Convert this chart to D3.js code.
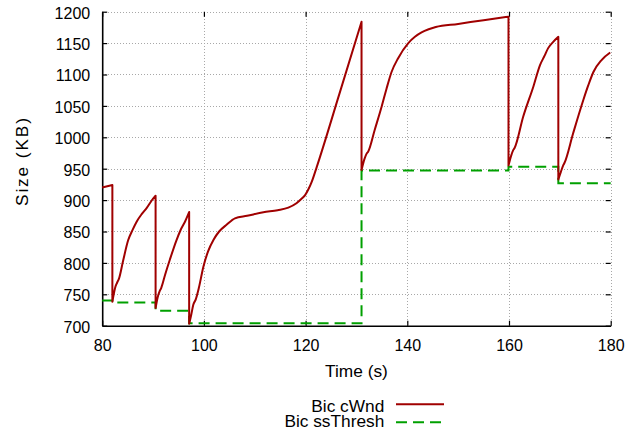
<!DOCTYPE html>
<html>
<head>
<meta charset="utf-8">
<script src="https://cdn.jsdelivr.net/npm/d3@7"></script>
<style>
  html, body { margin: 0; padding: 0; background: #fff; }
  svg { display: block; font-family: "Liberation Sans", Arial, Helvetica, sans-serif; }
</style>
</head>
<body>
<svg id="chart" width="639" height="432"></svg>
<script>
// Congestion window trace, [time (s), size (KB)]
const cwndTime = [
  80, 82, 82, 82.6, 82.9, 83.3, 84.1, 85.1, 86.0, 86.8, 87.8, 88.8, 89.7, 90.5,
  90.5, 90.9, 91.3, 91.6, 92.4, 93.3, 94.6, 95.4, 96.3, 97.1,
  97.1, 97.5, 97.9, 98.4, 99.0, 99.9, 100.8, 101.9, 103.0, 104.5, 106.1, 108.5, 111.7, 114.5, 116.6, 118.2, 119.3, 119.9, 120.6, 121.2, 122.2, 126.6, 131.0,
  131.0, 131.6, 132.0, 132.3, 133.6, 134.96, 135.9, 136.9, 138.2, 140.2, 141.5, 142.8, 144.2, 145.6, 150.0, 155.0, 159.9,
  159.9, 160.4, 160.85, 161.1, 162.8, 164.8, 166.1, 167.0, 167.7, 168.7, 169.7,
  169.7, 170.2, 170.7, 170.9, 172.6, 174.6, 175.6, 176.6, 178.2, 179.9
];
const cwndSize = [
  920, 924, 738, 762, 768, 775, 803, 836, 853, 866, 878, 888, 899, 907,
  728, 745, 755, 760, 782, 805, 836, 852, 866, 881,
  703, 717, 733, 742, 760, 794, 818, 837, 850, 861, 871, 875, 880.6, 884, 888, 895, 903, 908, 918, 929, 953, 1068, 1184,
  948, 966, 974, 977, 1012, 1049, 1077, 1104, 1126, 1150, 1160, 1167, 1172, 1175.5, 1180.5, 1186.5, 1192,
  955, 970, 980, 983, 1033, 1081, 1115, 1130, 1142, 1152, 1160,
  933, 945, 956, 959, 1006, 1059, 1083, 1104, 1123, 1135
];

// Slow-start threshold, held until the next change
const ssTime = [80, 82, 90.5, 97.1, 131.0, 159.9, 169.7, 180];
const ssSize = [740, 737, 724, 704, 947, 953, 927, 927];

const xTicks = [80, 100, 120, 140, 160, 180];
const yTicks = [700, 750, 800, 850, 900, 950, 1000, 1050, 1100, 1150, 1200];

const seriesNames = ["Bic cWnd", "Bic ssThresh"];
const seriesColors = ["#a00000", "#00a000"];

const svg = d3.select("#chart");

const x = d3.scaleLinear().domain([80, 180]).range([102.2, 610.7]);
const y = d3.scaleLinear().domain([700, 1200]).range([325.7, 11.7]);

const [x0, x1] = x.range();
const [y0, y1] = y.range();

// dotted grid
const grid = svg.append("g").attr("stroke", "#a8a8a8").attr("stroke-width", 1)
  .attr("stroke-dasharray", "1,2").attr("shape-rendering", "crispEdges");
grid.selectAll("line.gx").data(xTicks.slice(1)).join("line")
  .attr("x1", d => Math.round(x(d)) + 0.5).attr("x2", d => Math.round(x(d)) + 0.5)
  .attr("y1", y0).attr("y2", y1);
grid.selectAll("line.gy").data(yTicks.slice(1)).join("line")
  .attr("y1", d => Math.round(y(d)) + 0.5).attr("y2", d => Math.round(y(d)) + 0.5)
  .attr("x1", x0).attr("x2", x1);

// axes with inward ticks
const tickFont = 16;
const titleFont = 17.3;
const fmt = d3.format("d");
const gLeft = svg.append("g").attr("transform", `translate(${x0},0)`)
  .call(d3.axisLeft(y).tickValues(yTicks).tickFormat(fmt).tickSizeInner(-5).tickSizeOuter(0).tickPadding(12));
const gBottom = svg.append("g").attr("transform", `translate(0,${y0})`)
  .call(d3.axisBottom(x).tickValues(xTicks).tickFormat(fmt).tickSizeInner(-5).tickSizeOuter(0).tickPadding(14));
const gTop = svg.append("g").attr("transform", `translate(0,${y1})`)
  .call(d3.axisTop(x).tickValues(xTicks).tickSizeInner(-5).tickSizeOuter(0).tickFormat(""));
const gRight = svg.append("g").attr("transform", `translate(${x1},0)`)
  .call(d3.axisRight(y).tickValues(yTicks).tickSizeInner(-5).tickSizeOuter(0).tickFormat(""));

[gLeft, gBottom, gTop, gRight].forEach(g => {
  g.selectAll("text").attr("font-size", tickFont)
    .attr("font-family", "'Liberation Sans', Arial, sans-serif").attr("fill", "#000");
  g.selectAll("line").attr("stroke", "#000").attr("stroke-width", 1.2);
});
gLeft.selectAll("text").attr("dy", "0.4em");
gLeft.select(".domain").attr("stroke", "#000").attr("stroke-width", 1.6);
gBottom.select(".domain").attr("stroke", "#000").attr("stroke-width", 1.6);
gTop.select(".domain").remove();
gRight.select(".domain").remove();

// series
const cwnd = cwndTime.map((t, i) => [t, cwndSize[i]]);
const ss = ssTime.map((t, i) => [t, ssSize[i]]);
const dash = "11,6";

svg.append("path").datum(ss)
  .attr("fill", "none").attr("stroke", seriesColors[1]).attr("stroke-width", 2)
  .attr("stroke-dasharray", dash)
  .attr("d", d3.line().x(d => x(d[0])).y(d => y(d[1])).curve(d3.curveStepAfter));

// split the window trace at each loss event (repeated time) so every
// growth phase is smoothed on its own and the drops stay vertical
const segments = [];
cwnd.forEach((p, i) => {
  if (i === 0 || p[0] === cwnd[i - 1][0]) segments.push([]);
  segments[segments.length - 1].push(p);
});
const smooth = d3.line().x(d => x(d[0])).y(d => y(d[1])).curve(d3.curveMonotoneX);
const cwndPath = segments.map((s, i) => {
  const d = smooth(s);
  return i === 0 ? d : "L" + d.slice(1);
}).join("");

svg.append("path")
  .attr("fill", "none").attr("stroke", seriesColors[0]).attr("stroke-width", 2)
  .attr("stroke-linejoin", "round")
  .attr("d", cwndPath);

// axis titles
svg.append("text").attr("x", (x0 + x1) / 2).attr("y", 377)
  .attr("text-anchor", "middle").attr("font-size", titleFont).text("Time (s)");
svg.append("text").attr("transform", "translate(27.5,162) rotate(-90)")
  .attr("text-anchor", "middle").attr("font-size", titleFont)
  .attr("textLength", 88).attr("lengthAdjust", "spacing").text("Size (KB)");

// legend
const legend = svg.append("g");
const legendY = [411.5, 427];
const legendLineY = [404.3, 422.3];
seriesNames.forEach((name, i) => {
  legend.append("text").attr("x", 384.3).attr("y", legendY[i])
    .attr("text-anchor", "end").attr("font-size", titleFont).text(name);
  legend.append("line").attr("x1", 396).attr("x2", 444)
    .attr("y1", legendLineY[i]).attr("y2", legendLineY[i])
    .attr("stroke", seriesColors[i]).attr("stroke-width", 2)
    .attr("stroke-dasharray", i === 1 ? dash : null);
});
</script>
</body>
</html>
